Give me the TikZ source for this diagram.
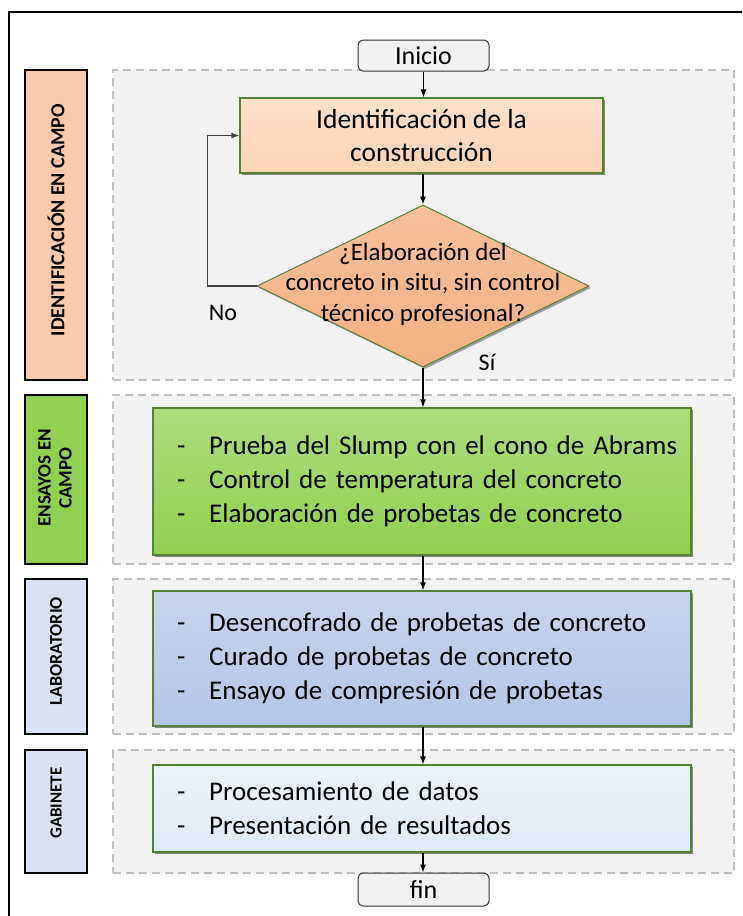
\documentclass[tikz,border=0pt]{standalone}
\usepackage{fontspec}
\setmainfont{Carlito}
\usetikzlibrary{shapes.geometric,shadows,arrows.meta}
\definecolor{peachlab}{HTML}{F8CBAD}
\definecolor{peachbox}{HTML}{FDD3B4}
\definecolor{peachdia}{HTML}{F4B183}
\definecolor{greenbox}{HTML}{92D050}
\definecolor{bluebox}{HTML}{B4C7E7}
\definecolor{bluelab}{HTML}{DAE3F3}
\definecolor{lightblue}{HTML}{DEEBF7}
\definecolor{regionfill}{HTML}{F2F2F2}
\definecolor{regionline}{HTML}{BFBFBF}
\definecolor{boxline}{HTML}{548235}
\tikzset{
  region/.style={draw=regionline, fill=regionfill, line width=1.2pt, dash pattern=on 8pt off 5pt, minimum width=621, inner sep=0pt},
  lab/.style={draw=black, line width=1.2pt, minimum width=62, inner sep=0pt},
  labtext/.style={rotate=90, align=center, font=\fontsize{#1}{21}\selectfont\bfseries},
  procbox/.style={draw=boxline, line width=1.2pt, inner sep=0pt, drop shadow={shadow xshift=2pt, shadow yshift=-2pt, fill=black, opacity=0.45}},
  listbox/.style={procbox, minimum width=538, text width=490, inner xsep=24pt, align=left, font=\fontsize{27}{34}\selectfont},
  term/.style={draw=black!80, fill=regionfill, line width=1pt, rounded corners=5pt, minimum width=131, inner sep=0pt, font=\fontsize{26}{30}\selectfont},
  arr/.style={line width=1.2pt, -{Latex[length=8pt,width=6pt]}}
}
\newcommand{\itm}[1]{\mbox{-\hspace{24pt}#1}}
\begin{document}
\begin{tikzpicture}[x=1pt,y=-1pt]
\useasboundingbox (0,0) rectangle (742,916);
\fill[white] (0,0) rectangle (742,916);
\draw[line width=2pt] (9,916) -- (9,12) -- (742,12);

% regions
\node[region, minimum height=310] (r1) at (423.5,225) {};
\node[region, minimum height=169] (r2) at (423.5,479.5) {};
\node[region, minimum height=155] (r3) at (423.5,656.5) {};
\node[region, minimum height=123] (r4) at (423.5,811.5) {};

% side labels
\node[lab, fill=peachlab, minimum height=310] (l1) at (56,225) {};
\node[labtext=20] (l1t) at (56,220) {IDENTIFICACIÓN EN CAMPO};
\node[lab, fill=greenbox, minimum height=169] (l2) at (56,479.5) {};
\node[labtext=19] (l2t) at (55,478) {ENSAYOS EN\\CAMPO};
\node[lab, fill=bluelab, minimum height=155] (l3) at (56,656.5) {};
\node[labtext=18] (l3t) at (56,651) {LABORATORIO};
\node[lab, fill=bluelab, minimum height=123] (l4) at (56,811.5) {};
\node[labtext=17] (l4t) at (56,803) {GABINETE};

% terminals
\node[term, minimum height=31] (ini) at (423.5,55.5) {Inicio};
\node[term, minimum height=33] (fin) at (423.5,889.5) {fin};

% identification box
\node[procbox, top color=peachbox!70!white, bottom color=peachbox, minimum width=363, minimum height=75, align=center, font=\fontsize{27.5}{33}\selectfont] (idb) at (421.5,135.5) {Identificación de la\\construcción};

% decision
\node[draw=boxline, line width=1pt, diamond, aspect=2, minimum width=332, minimum height=162, inner sep=0pt, top color=peachdia!80!white, bottom color=peachdia, drop shadow={shadow xshift=2pt, shadow yshift=-2pt, fill=black, opacity=0.35}] (dia) at (423,286) {};
\node[align=center, font=\fontsize{25}{30.5}\selectfont] (diat) at (423,284) {¿Elaboración del\\concreto in situ, sin control\\técnico profesional?};

% list boxes
\node[listbox, top color=greenbox!75!white, bottom color=greenbox, minimum height=147] (g) at (422,481.5) {\itm{Prueba del Slump con el cono de Abrams}\\\itm{Control de temperatura del concreto}\\\itm{Elaboración de probetas de concreto}};
\node[listbox, top color=bluebox!75!white, bottom color=bluebox, minimum height=135] (b) at (422,658.5) {\itm{Desencofrado de probetas de concreto}\\\itm{Curado de probetas de concreto}\\\itm{Ensayo de compresión de probetas}};
\node[listbox, top color=lightblue!60!white, bottom color=lightblue, minimum height=87] (lb) at (422,808.5) {\itm{Procesamiento de datos}\\\itm{Presentación de resultados}};

% labels
\node[font=\fontsize{24}{26}\selectfont] (no) at (223,313) {No};
\node[font=\fontsize{24}{26}\selectfont] (si) at (487,362) {Sí};

% connectors
\draw[arr] (ini.south) -- (ini.south |- idb.north);
\draw[arr] (idb.south -| dia.north) -- (dia.north);
\draw[arr] (dia.south) -- (dia.south |- g.north);
\draw[arr] (g.south -| dia.south) -- (b.north -| dia.south);
\draw[arr] (b.south -| dia.south) -- (lb.north -| dia.south);
\draw[arr] (lb.south -| dia.south) -- (fin.north -| dia.south);
\draw[arr, black!75] (dia.west) -- ++(-49,0) coordinate (loopc) |- (idb.west);
\end{tikzpicture}
\end{document}
